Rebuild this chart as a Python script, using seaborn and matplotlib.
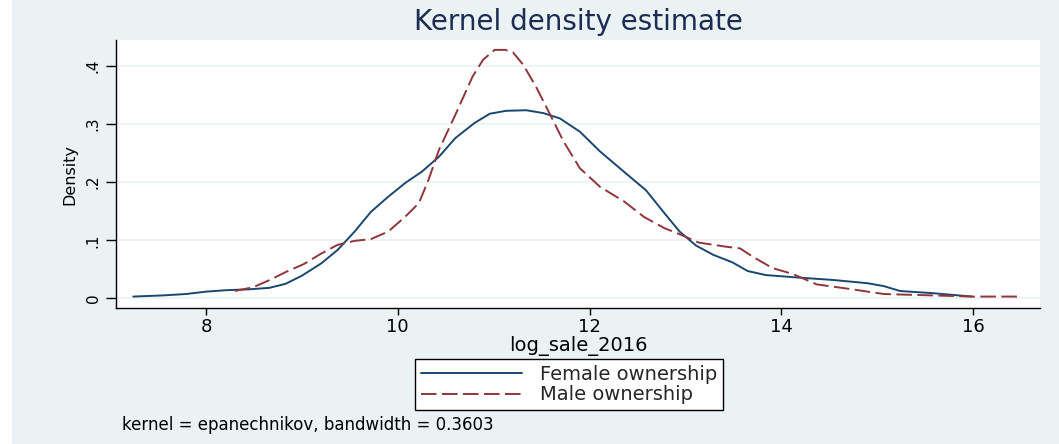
import matplotlib
matplotlib.use("Agg")
import matplotlib.pyplot as plt
import matplotlib.patches as mpatches
import seaborn as sns
import pandas as pd

# ---- data ----
female_x = [7.24, 7.55, 7.79, 8.0, 8.21, 8.45, 8.66, 8.83, 9.0, 9.2, 9.37, 9.55, 9.72, 9.9,
            10.08, 10.25, 10.43, 10.6, 10.8, 10.96, 11.13, 11.34, 11.52, 11.69, 11.9, 12.11,
            12.36, 12.59, 12.78, 12.94, 13.11, 13.29, 13.49, 13.65, 13.84, 14.19, 14.54,
            14.9, 15.07, 15.24, 15.6, 15.99]
female_y = [.003, .005, .0074, .0115, .014, .0155, .018, .025, .039, .060, .083, .115, .149,
            .175, .199, .218, .244, .276, .302, .318, .323, .324, .319, .310, .287, .253,
            .218, .186, .147, .115, .091, .075, .062, .047, .040, .0356, .0316, .026, .021,
            .0126, .0086, .003]
male_x = [8.30, 8.49, 8.67, 8.84, 9.02, 9.20, 9.37, 9.55, 9.72, 9.90, 10.08, 10.22, 10.32,
          10.43, 10.60, 10.78, 10.89, 11.01, 11.12, 11.20, 11.31, 11.45, 11.60, 11.73, 11.90,
          12.11, 12.36, 12.57, 12.78, 12.96, 13.14, 13.42, 13.57, 13.70, 13.91, 14.12, 14.37,
          14.72, 15.07, 15.42, 15.99, 16.51]
male_y = [.0126, .019, .032, .046, .059, .077, .092, .099, .102, .115, .141, .164, .204,
          .256, .316, .382, .411, .428, .428, .424, .402, .362, .313, .270, .224, .192, .167,
          .140, .121, .109, .096, .089, .086, .072, .052, .042, .024, .016, .0074, .0057,
          .003, .003]
series_names = ["Female ownership", "Male ownership"]
x_ticks = [8, 10, 12, 14, 16]
y_ticks = [0, 0.1, 0.2, 0.3, 0.4]
y_tick_labels = ["0", ".1", ".2", ".3", ".4"]
title = "Kernel density estimate"
x_label = "log_sale_2016"
y_label = "Density"
note = "kernel = epanechnikov, bandwidth = 0.3603"

df = pd.concat([
    pd.DataFrame({"x": female_x, "y": female_y, "group": series_names[0]}),
    pd.DataFrame({"x": male_x, "y": male_y, "group": series_names[1]}),
], ignore_index=True)

# ---- style ----
BG = "#EAF2F3"
NAVY = "#1A476F"
MAROON = "#90353B"
sns.set_theme(style="white")
plt.rcParams["font.family"] = ["DejaVu Sans"]

W, H = 1059, 444
fig = plt.figure(figsize=(W / 100, H / 100), dpi=100, facecolor=BG)
# white strip at the very left of the image
fig.patches.append(mpatches.Rectangle((0, 0), 12 / W, 1, transform=fig.transFigure,
                                      facecolor="white", edgecolor="none", zorder=-1))

L, R, T, B = 116, 1040, 40, 308
ax = fig.add_axes([L / W, 1 - B / H, (R - L) / W, (B - T) / H])
ax.set_facecolor("white")

sns.lineplot(data=df, x="x", y="y", hue="group", style="group",
             palette={series_names[0]: NAVY, series_names[1]: MAROON},
             dashes={series_names[0]: "", series_names[1]: (8, 2.8)},
             linewidth=1.4, sort=False, estimator=None, ax=ax, legend=True)

ax.set_xlim(7.06, 16.70)
ax.set_ylim(-0.0167, 0.445)
ax.set_xticks(x_ticks)
ax.set_xticklabels([str(v) for v in x_ticks], fontsize=13, color="black")
ax.set_yticks(y_ticks)
ax.set_yticklabels(y_tick_labels, fontsize=11, rotation=90, va="center", color="black")
ax.tick_params(axis="x", length=5, width=1, color="black", pad=2, bottom=True)
ax.tick_params(axis="y", length=7, width=1, color="black", pad=4, left=True)
for s in ["top", "right"]:
    ax.spines[s].set_visible(False)
for s in ["left", "bottom"]:
    ax.spines[s].set_color("black")
    ax.spines[s].set_linewidth(1.0)
ax.grid(axis="y", color=BG, linewidth=1.2)
ax.grid(axis="x", visible=False)
ax.set_axisbelow(True)

ax.set_xlabel(x_label, fontsize=14, color="black", labelpad=0)
ax.set_ylabel(y_label, fontsize=11.5, color="black", labelpad=6)

fig.text((L + R) / 2 / W, 1 - 22 / H, title, ha="center", va="center",
         fontsize=20, color="#1C2C55")
fig.text(122 / W, 1 - 425 / H, note, ha="left", va="center", fontsize=12, color="black")

handles, labels = ax.get_legend_handles_labels()
ax.legend(handles=handles, labels=labels, loc="center",
          bbox_to_anchor=(569 / W, 1 - 384.5 / H), bbox_transform=fig.transFigure,
          fontsize=14, frameon=True, fancybox=False, edgecolor="black",
          facecolor="white", framealpha=1, handlelength=5.2, handletextpad=0.9,
          borderpad=0.3, labelspacing=0.1, borderaxespad=0)
leg = ax.get_legend()
leg.get_frame().set_linewidth(1.0)

fig.savefig("out.png", dpi=100, facecolor=BG)
